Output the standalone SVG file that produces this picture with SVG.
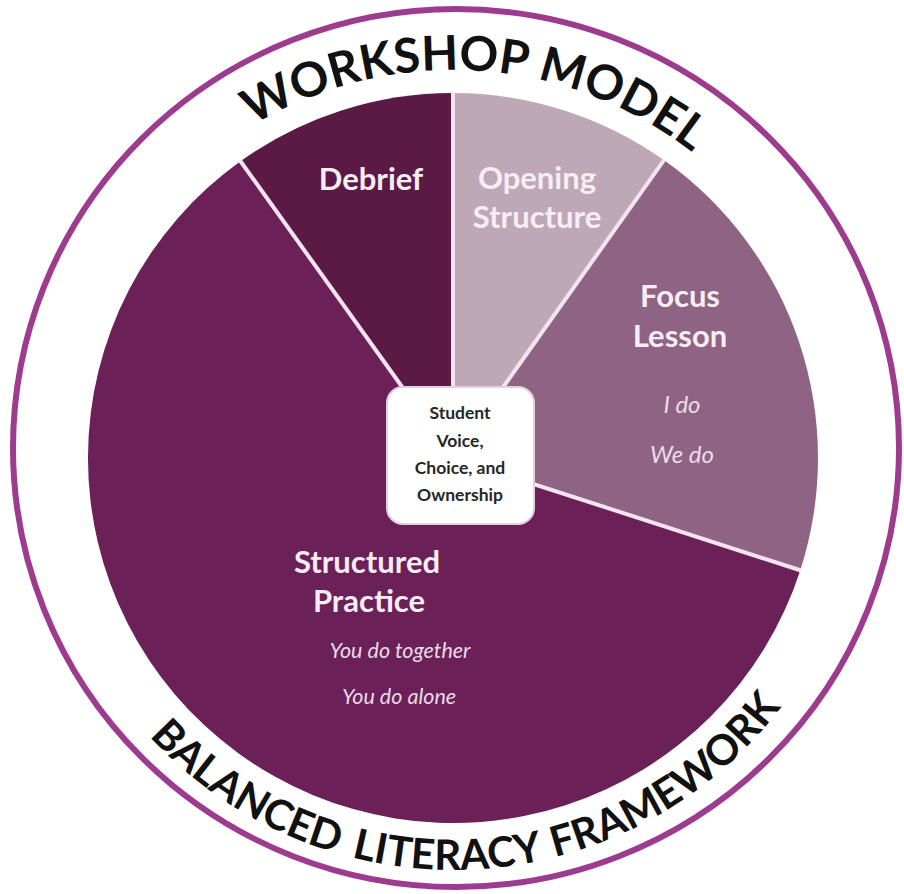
<svg xmlns="http://www.w3.org/2000/svg" xmlns:xlink="http://www.w3.org/1999/xlink" width="904" height="894" viewBox="0 0 904 894">
  <style>
    .head { font-family: "Lato", "Open Sans", sans-serif; font-weight: 700; font-size: 31px; fill: #f6eef4; text-anchor: middle; }
    .ital { font-family: "Lato", "Open Sans", sans-serif; font-style: italic; font-weight: 400; fill: #eadbe7; text-anchor: middle; }
    .center { font-family: "Lato", "Open Sans", sans-serif; font-weight: 700; font-size: 17.5px; fill: #262626; text-anchor: middle; }
    .arc { font-family: "Lato", "Open Sans", sans-serif; font-weight: 700; fill: #111111; text-anchor: middle; }
    .sep { stroke: #f3e4ef; stroke-width: 4; stroke-linecap: butt; }
  </style>
  <defs>
    <path id="topArc" d="M 65,458 A 388,388 0 0 1 841,458"/>
    <path id="botArc" d="M 41,458 A 412,412 0 0 0 865,458"/>
  </defs>
  <rect x="0" y="0" width="904" height="894" fill="#ffffff"/>

  <g id="ring">
    <ellipse cx="456" cy="448" rx="443" ry="439" fill="none" stroke="#9d3c8e" stroke-width="6"/>
  </g>

  <g id="title-top">
    <text class="arc" font-size="48"><textPath xlink:href="#topArc" href="#topArc" startOffset="633">WORKSHOP MODEL</textPath></text>
  </g>
  <g id="title-bottom">
    <text class="arc" font-size="42"><textPath xlink:href="#botArc" href="#botArc" startOffset="417">BALANCED</textPath></text>
    <text class="arc" font-size="42"><textPath xlink:href="#botArc" href="#botArc" startOffset="641">LITERACY</textPath></text>
    <text class="arc" font-size="42"><textPath xlink:href="#botArc" href="#botArc" startOffset="888">FRAMEWORK</textPath></text>
  </g>

  <g id="structured-practice">
    <path d="M453,458 L800.3,570.2 A365,365 0 1 1 240.5,161.2 Z" fill="#6b2158"/>
    <text class="head" x="367" y="573">Structured</text>
    <text class="head" x="369" y="612">Practice</text>
    <text class="ital" font-size="21.5" x="400" y="658">You do together</text>
    <text class="ital" font-size="21.5" x="399" y="704">You do alone</text>
  </g>

  <g id="debrief">
    <path d="M453,458 L240.5,161.2 A365,365 0 0 1 453,93 Z" fill="#5b1a46"/>
    <text class="head" x="371" y="190">Debrief</text>
  </g>

  <g id="opening-structure">
    <path d="M453,458 L453,93 A365,365 0 0 1 663.9,160.1 Z" fill="#bea8b8"/>
    <text class="head" x="537" y="189">Opening</text>
    <text class="head" x="537" y="228">Structure</text>
  </g>

  <g id="focus-lesson">
    <path d="M453,458 L663.9,160.1 A365,365 0 0 1 800.3,570.2 Z" fill="#8f6383"/>
    <text class="head" x="680" y="307">Focus</text>
    <text class="head" x="680" y="347">Lesson</text>
    <text class="ital" font-size="24" x="682" y="413">I do</text>
    <text class="ital" font-size="24" x="682" y="463">We do</text>
  </g>

  <g id="connectors">
    <line class="sep" x1="453" y1="458" x2="453" y2="92"/>
    <line class="sep" x1="453" y1="458" x2="664.5" y2="159.3"/>
    <line class="sep" x1="453" y1="458" x2="801" y2="570.5"/>
    <line class="sep" x1="453" y1="458" x2="240" y2="160.5"/>
  </g>

  <g id="student-voice">
    <rect x="387" y="387" width="147" height="137" rx="16" ry="16" fill="#ffffff" stroke="#e3cfe0" stroke-width="2"/>
    <text class="center" x="460" y="419">Student</text>
    <text class="center" x="460" y="447">Voice,</text>
    <text class="center" x="460" y="474">Choice, and</text>
    <text class="center" x="460" y="501">Ownership</text>
  </g>
</svg>
